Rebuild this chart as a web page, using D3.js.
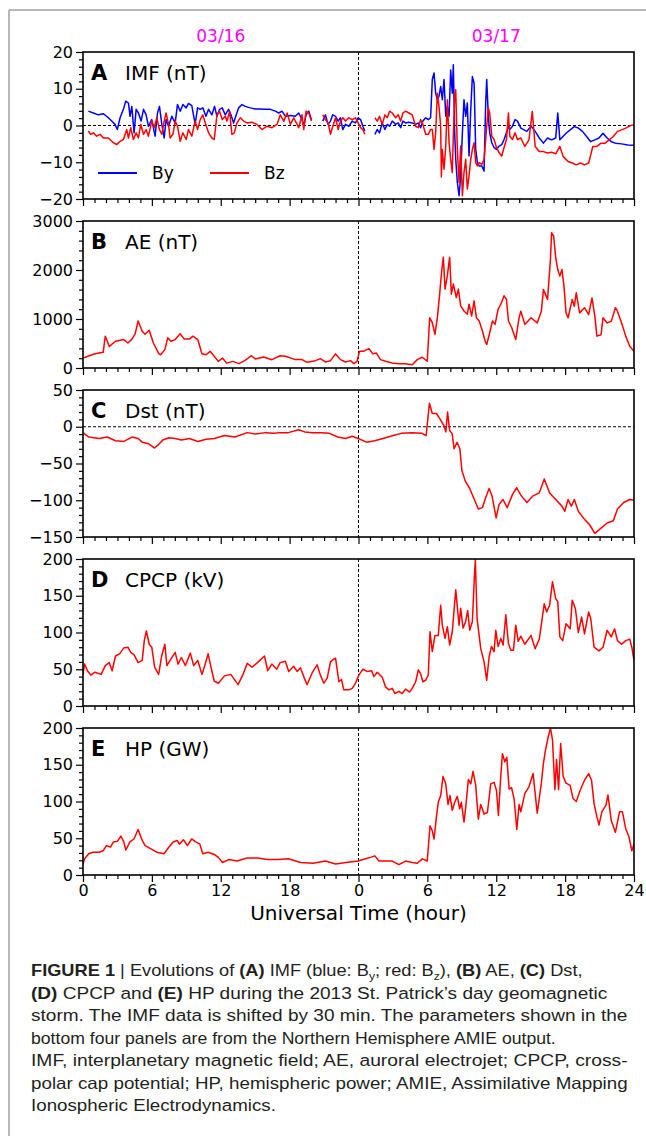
<!DOCTYPE html>
<html><head><meta charset="utf-8">
<script src="https://cdn.jsdelivr.net/npm/d3@7"></script>
<style>body{margin:0;background:#fff}svg{display:block}</style>
</head><body><svg id="c" width="646" height="1136"></svg>
<script>
// ---------------- data (hour since 03/16 00 UT, value) ----------------
const xTickValues = [0, 6, 12, 18, 24, 30, 36, 42, 48];
const xTickLabels = ["0", "6", "12", "18", "0", "6", "12", "18", "24"];
const dateHours = [12, 36];
const dateTexts = ["03/16", "03/17"];

const imfBy = [[0.47,3.9],[0.9,3.4],[1.34,2.9],[1.78,3.2],[2.21,2.1],[2.5,1.2],[2.79,0.3],[2.99,-1.1],[3.23,2.1],[3.52,4.4],[3.72,6.6],[3.96,6.1],[4.1,2.5],[4.25,5.2],[4.45,-2.0],[4.63,4.4],[4.83,3.4],[5.06,1.2],[5.27,4.4],[5.5,2.9],[5.7,-0.2],[5.99,1.6],[6.28,-2.9],[6.49,3.4],[6.66,5.2],[6.87,0.3],[7.07,-3.4],[7.24,1.6],[7.45,-0.2],[7.74,2.5],[8.03,0.7],[8.23,5.7],[8.47,3.9],[8.7,5.7],[8.99,4.8],[9.19,6.0],[9.48,5.4],[9.77,0.3],[9.98,4.8],[10.21,4.4],[10.44,4.8],[10.71,2.5],[10.94,4.4],[11.23,2.9],[11.46,5.2],[11.67,2.5],[11.9,4.4],[12.13,4.8],[12.39,2.9],[12.68,4.4],[12.89,2.9],[13.12,0.7],[13.35,2.9],[13.56,4.8],[13.85,5.7],[14.14,5.2],[14.57,4.8],[15.01,4.5],[15.45,4.5],[15.88,4.4],[16.32,4.4],[16.76,3.9],[17.05,3.4],[17.34,3.9],[17.63,2.5],[18.07,2.7],[18.5,2.5],[18.79,3.4],[19.08,1.6],[19.23,-0.2],[19.43,2.9],[19.67,3.9],[19.9,1.6],[20.2,null],[20.89,1.2],[21.12,2.9],[21.35,0.3],[21.56,1.2],[21.76,2.9],[22.0,2.5],[22.23,1.2],[22.43,2.1],[22.63,-1.1],[22.87,0.3],[23.16,-0.2],[23.45,1.2],[23.74,0.7],[23.97,2.1],[24.18,1.6],[24.38,-0.2],[24.55,-1.5],[25.0,null],[25.43,-2.4],[25.63,-1.1],[25.83,-2.0],[26.07,0.7],[26.3,-1.1],[26.5,0.3],[26.71,-0.2],[26.94,1.2],[27.23,0.3],[27.46,0.7],[27.67,-0.6],[27.87,1.2],[28.1,0.7],[28.39,0.9],[28.68,0.7],[28.98,0.3],[29.21,0.7],[29.41,-0.6],[29.61,1.2],[29.85,2.1],[30.08,1.6],[30.28,2.1],[30.43,12.5],[30.58,14.3],[30.72,8.8],[30.87,7.0],[31.01,7.9],[31.16,10.6],[31.3,7.0],[31.45,12.5],[31.6,2.5],[31.74,5.2],[31.89,2.5],[32.03,15.1],[32.17,8.8],[32.26,16.5],[32.38,-2.0],[32.47,-9.2],[32.61,-15.5],[32.76,-19.1],[32.9,-13.7],[33.05,-2.0],[33.19,7.0],[33.34,2.5],[33.48,6.1],[33.63,-8.3],[33.78,4.4],[33.92,13.3],[34.07,11.5],[34.21,-6.5],[34.36,-10.1],[34.51,-11.0],[34.74,-11.0],[34.94,-12.4],[35.08,6.1],[35.17,12.5],[35.31,2.5],[35.43,-2.0],[35.61,-4.7],[35.81,-6.0],[36.02,-6.5],[36.25,-5.6],[36.48,-5.2],[36.68,-3.8],[36.89,-2.0],[37.06,-0.2],[37.18,-1.1],[37.41,-0.2],[37.64,1.6],[37.85,1.2],[38.14,-0.7],[38.67,-1.6],[39.03,-0.1],[39.39,-1.6],[39.75,-3.4],[40.11,-4.8],[40.47,-3.4],[40.82,-3.9],[41.18,-3.4],[41.36,3.4],[41.54,-3.9],[42.08,-2.1],[42.44,-1.2],[42.8,-0.3],[43.15,-0.7],[43.51,-1.6],[43.87,-3.0],[44.23,-4.4],[44.59,-3.9],[44.95,-3.4],[45.3,-2.1],[45.66,-3.4],[46.02,-4.4],[46.38,-4.8],[46.92,-5.0],[47.46,-5.3],[48,-5.4]];

const imfBz = [[0.47,-1.5],[0.67,-2.4],[0.9,-2.0],[1.19,-2.9],[1.48,-2.4],[1.78,-3.4],[2.21,-3.4],[2.65,-4.7],[2.94,-5.2],[3.23,-4.3],[3.52,-3.8],[3.81,-1.1],[3.96,-3.4],[4.16,-0.6],[4.39,-3.8],[4.63,-2.0],[4.83,-3.4],[5.03,0.3],[5.27,-2.4],[5.5,-1.1],[5.7,-2.9],[5.99,1.2],[6.2,-0.6],[6.43,2.1],[6.66,-1.1],[6.87,-2.4],[7.07,1.2],[7.24,3.4],[7.45,0.3],[7.59,-3.4],[7.83,-2.4],[8.03,1.2],[8.23,-0.2],[8.47,-4.3],[8.7,-2.0],[8.99,-3.8],[9.19,-1.1],[9.48,-2.9],[9.77,1.2],[9.98,-1.1],[10.21,1.6],[10.44,2.9],[10.65,0.7],[10.94,-2.0],[11.23,-3.4],[11.43,-3.8],[11.67,2.9],[11.9,3.9],[12.13,1.6],[12.39,2.5],[12.54,1.2],[12.77,3.9],[12.97,-2.4],[13.18,-2.0],[13.41,0.7],[13.7,2.1],[13.99,1.2],[14.28,0.7],[14.72,0.9],[15.16,0.3],[15.59,-1.1],[16.03,-0.2],[16.47,-0.6],[16.9,0.3],[17.19,2.9],[17.49,1.2],[17.78,3.4],[18.07,0.3],[18.36,2.1],[18.79,-0.6],[19.08,2.9],[19.23,-1.1],[19.43,3.9],[19.67,3.4],[19.9,1.2],[20.2,null],[20.89,2.9],[21.12,1.6],[21.35,0.7],[21.56,-2.4],[21.76,-0.2],[22.0,2.1],[22.23,-1.1],[22.43,1.2],[22.63,2.1],[22.87,1.2],[23.16,2.1],[23.45,1.6],[23.74,2.1],[23.97,0.7],[24.18,-0.6],[24.38,-1.1],[24.55,-2.4],[25.0,null],[25.43,2.1],[25.63,1.2],[25.83,2.5],[26.07,0.3],[26.3,2.9],[26.5,2.1],[26.71,3.9],[26.94,3.4],[27.23,2.1],[27.46,2.9],[27.67,1.2],[27.87,3.4],[28.1,3.9],[28.39,3.4],[28.68,2.9],[28.98,-0.2],[29.21,-0.6],[29.41,1.6],[29.61,0.3],[29.85,-2.4],[30.08,-2.4],[30.28,-1.1],[30.43,-1.1],[30.58,-6.5],[30.72,-2.0],[30.87,8.8],[31.01,5.2],[31.16,-0.2],[31.22,-14.0],[31.3,-6.5],[31.45,-11.9],[31.6,-5.6],[31.74,7.0],[31.89,-4.7],[32.03,-9.2],[32.17,-12.8],[32.26,-2.9],[32.38,7.9],[32.47,9.7],[32.61,-6.5],[32.76,-15.5],[32.9,-5.6],[33.05,-19.1],[33.19,-12.8],[33.34,-9.2],[33.48,-17.3],[33.63,-13.7],[33.78,-9.2],[33.92,-6.5],[34.07,-4.7],[34.21,-10.1],[34.36,-11.0],[34.51,-10.1],[34.74,-10.6],[34.94,-9.2],[35.08,-3.8],[35.17,-0.2],[35.31,4.8],[35.43,3.4],[35.61,-2.9],[35.81,-3.8],[36.02,-6.0],[36.25,-7.4],[36.48,-8.3],[36.68,-6.0],[36.89,-3.8],[37.06,3.4],[37.18,-2.9],[37.41,-3.8],[37.64,-2.0],[37.85,-3.8],[38.14,-3.4],[38.49,-5.7],[38.85,-3.9],[39.14,3.8],[39.39,-5.7],[39.75,-7.1],[40.11,-7.1],[40.47,-7.5],[40.82,-7.3],[41.18,-7.7],[41.54,-5.7],[41.83,-8.4],[42.26,-9.8],[42.62,-10.2],[42.97,-10.7],[43.33,-10.2],[43.69,-10.7],[44.05,-10.2],[44.23,-8.0],[44.41,-5.7],[44.77,-5.7],[45.13,-4.8],[45.48,-4.8],[45.84,-3.9],[46.2,-3.0],[46.56,-1.6],[46.92,-1.2],[47.28,-0.7],[47.63,-0.1],[48,0.2]];

const ae = [[0,205],[1.04,290],[1.76,320],[1.94,650],[2.29,440],[2.83,545],[3.55,580],[3.91,510],[4.27,590],[4.55,700],[4.8,960],[5.16,750],[5.41,690],[5.77,770],[6.13,510],[6.59,300],[6.77,270],[7.13,375],[7.38,615],[7.67,545],[8.03,580],[8.46,700],[8.82,590],[9.28,590],[9.57,650],[10.0,580],[10.36,290],[10.72,270],[11.08,340],[11.43,240],[11.79,135],[12.15,205],[12.51,100],[13.05,135],[13.58,90],[14.12,155],[14.66,250],[15.02,185],[15.73,225],[16.45,170],[17.17,250],[17.63,240],[18.5,171],[19.08,171],[19.52,116],[20.25,150],[20.68,192],[21.12,123],[21.56,150],[22.0,288],[22.43,171],[22.87,123],[23.3,150],[23.6,89],[23.88,137],[24.09,343],[24.47,343],[24.9,397],[25.25,288],[25.54,308],[25.92,171],[26.36,137],[26.94,103],[27.52,89],[28.1,89],[28.68,68],[29.12,171],[29.56,219],[29.99,137],[30.2,1027],[30.43,925],[30.66,685],[30.87,1027],[31.07,1507],[31.25,1987],[31.39,2261],[31.54,1610],[31.74,1884],[31.94,2261],[32.09,1507],[32.26,1713],[32.52,1439],[32.7,1610],[32.9,1267],[33.19,1164],[33.48,1096],[33.63,1302],[33.86,1062],[34.07,1370],[34.27,1027],[34.51,959],[34.8,754],[35.03,548],[35.17,480],[35.43,720],[35.67,959],[35.9,890],[36.16,1199],[36.4,1302],[36.68,1473],[36.89,1404],[37.06,959],[37.35,822],[37.7,582],[37.99,1027],[38.14,1160],[38.49,890],[39.03,1025],[39.57,920],[39.93,1160],[40.11,1600],[40.47,1400],[40.72,2215],[40.82,2760],[41.0,2690],[41.18,2250],[41.36,2010],[41.54,1875],[41.72,2010],[41.9,1670],[42.08,1125],[42.26,1025],[42.62,1400],[42.8,1260],[42.97,1535],[43.26,1125],[43.69,1230],[44.05,1090],[44.34,1430],[44.59,1055],[44.77,650],[45.13,680],[45.3,1025],[45.66,920],[46.02,955],[46.38,1230],[46.56,1160],[46.92,920],[47.28,650],[47.63,445],[48,340]];

const dst = [[0,-8],[0.5,-14],[1.4,-16],[2.11,-14],[2.83,-19],[3.55,-20],[4.27,-14],[4.8,-16],[5.16,-21],[5.7,-23],[6.24,-29],[6.59,-24],[6.95,-18],[7.49,-15],[8.03,-16],[8.57,-18],[9.28,-16],[10.0,-20],[10.72,-17],[11.43,-16],[12.33,-12],[13.23,-14],[14.3,-8],[15.02,-10],[15.91,-8],[16.63,-9],[17.17,-8],[17.89,-8],[18.78,-4],[19.32,-7],[20.04,-8],[20.75,-8],[21.47,-9],[22.19,-14],[22.9,-16],[23.44,-13],[23.98,-16],[24.7,-21],[25.41,-19],[26.13,-16],[27.03,-12],[27.74,-9],[28.64,-8],[29.53,-9],[29.89,-12],[30.18,32],[30.43,18],[30.79,18],[31.08,11],[31.43,2],[31.61,-7],[31.76,20],[31.94,-5],[32.15,-9],[32.33,-30],[32.58,-21],[32.83,-30],[33.01,-60],[33.3,-74],[33.66,-83],[34.09,-99],[34.44,-112],[34.8,-110],[35.09,-96],[35.38,-84],[35.63,-94],[35.99,-124],[36.24,-106],[36.59,-99],[36.95,-110],[37.42,-92],[37.78,-83],[38.14,-93],[38.67,-103],[39.21,-94],[39.75,-90],[40.18,-71],[40.65,-90],[41.18,-99],[41.72,-108],[41.97,-115],[42.26,-99],[42.54,-108],[42.8,-99],[43.15,-115],[43.69,-126],[44.12,-133],[44.59,-145],[45.13,-138],[45.66,-131],[46.2,-128],[46.56,-112],[47.1,-103],[47.63,-99],[48,-100]];

const cpcp = [[0,43],[0.14,57],[0.39,48],[0.68,42],[1.04,46],[1.58,43],[1.94,55],[2.29,59],[2.54,48],[2.83,68],[3.19,71],[3.55,79],[3.91,80],[4.16,73],[4.44,70],[4.8,59],[5.16,62],[5.34,89],[5.52,102],[5.77,84],[5.99,80],[6.24,53],[6.59,43],[6.85,68],[7.13,84],[7.31,55],[7.67,64],[8.03,73],[8.28,57],[8.57,66],[8.92,55],[9.35,72],[9.64,55],[10.0,62],[10.36,43],[10.61,55],[10.9,71],[11.15,53],[11.43,34],[11.79,31],[12.33,41],[12.87,43],[13.51,29],[13.94,43],[14.3,58],[14.73,53],[15.2,59],[15.81,68],[16.09,48],[16.45,57],[16.88,50],[17.17,59],[17.63,61],[17.92,47],[18.36,54],[18.65,47],[18.94,52],[19.23,40],[19.52,29],[19.96,45],[20.39,56],[20.68,42],[20.98,31],[21.27,38],[21.56,60],[21.76,63],[22.0,65],[22.29,33],[22.52,36],[22.72,22],[23.16,22],[23.45,24],[23.74,31],[24.03,42],[24.38,50],[24.76,47],[25.14,48],[25.34,40],[25.63,46],[26.07,39],[26.36,26],[26.65,22],[26.94,24],[27.17,17],[27.52,20],[27.81,17],[28.1,23],[28.45,19],[28.68,24],[28.98,33],[29.21,49],[29.41,44],[29.61,33],[29.85,35],[30.08,42],[30.23,101],[30.43,74],[30.66,96],[30.95,96],[31.16,137],[31.3,110],[31.54,92],[31.74,108],[31.94,83],[32.17,101],[32.47,158],[32.76,110],[32.9,133],[33.11,106],[33.34,115],[33.51,130],[33.69,103],[33.92,115],[34.09,174],[34.18,199],[34.33,119],[34.65,78],[34.94,60],[35.17,35],[35.38,67],[35.58,81],[35.81,74],[35.96,103],[36.16,81],[36.4,92],[36.6,83],[36.83,124],[37.06,85],[37.27,76],[37.5,76],[37.7,110],[37.91,88],[38.14,95],[38.49,84],[39.03,96],[39.39,78],[39.75,91],[40.18,139],[40.39,128],[40.65,137],[40.9,169],[41.18,146],[41.36,142],[41.54,94],[41.79,89],[42.08,112],[42.44,105],[42.62,144],[42.9,132],[43.15,100],[43.44,121],[43.69,98],[44.05,128],[44.23,119],[44.52,80],[44.95,75],[45.3,80],[45.66,103],[46.02,94],[46.31,105],[46.56,89],[46.92,84],[47.28,89],[47.63,91],[47.81,80],[48,62]];

const hp = [[0,15],[0.14,22],[0.5,29],[0.86,31],[1.4,31],[1.76,33],[2.04,40],[2.4,38],[2.65,45],[3.01,46],[3.3,53],[3.55,45],[3.73,34],[4.09,45],[4.44,49],[4.8,62],[5.16,47],[5.41,40],[5.88,36],[6.42,31],[7.06,29],[7.49,38],[7.85,45],[8.21,47],[8.39,42],[8.75,48],[9.1,40],[9.46,49],[9.82,45],[10.18,42],[10.43,29],[10.9,31],[11.43,28],[11.79,24],[12.15,17],[12.69,21],[13.41,19],[14.3,23],[15.2,23],[16.09,21],[16.99,21],[17.89,22],[18.96,17],[20.04,16],[21.11,19],[22.01,15],[22.9,17],[23.98,19],[24.61,22],[25.05,24],[25.43,26],[25.78,19],[26.36,19],[26.94,19],[27.52,14],[28.1,19],[28.68,17],[29.12,16],[29.56,22],[29.99,19],[30.23,67],[30.43,60],[30.58,49],[30.78,78],[30.95,99],[31.16,108],[31.36,134],[31.6,124],[31.8,96],[31.97,108],[32.17,88],[32.38,99],[32.61,107],[32.81,90],[32.96,99],[33.19,72],[33.34,92],[33.57,130],[33.78,124],[33.98,141],[34.21,122],[34.44,76],[34.65,96],[34.94,83],[35.23,85],[35.52,124],[35.81,126],[36.02,115],[36.19,81],[36.4,136],[36.54,165],[36.74,154],[36.92,160],[37.12,117],[37.33,119],[37.56,103],[37.79,62],[37.99,96],[38.14,86],[38.49,111],[38.85,120],[39.21,138],[39.57,84],[39.93,125],[40.11,152],[40.29,170],[40.47,184],[40.72,200],[40.9,184],[41.11,116],[41.25,157],[41.43,116],[41.61,179],[41.83,134],[42.08,125],[42.44,122],[42.69,104],[42.97,100],[43.33,116],[43.69,129],[44.05,138],[44.3,129],[44.52,97],[44.77,79],[44.95,68],[45.2,86],[45.56,95],[45.73,109],[46.02,74],[46.38,58],[46.74,86],[46.99,86],[47.28,63],[47.56,52],[47.81,33],[48,42]];

const panelLetters = ["A", "B", "C", "D", "E"];
const panelTitles = ["IMF (nT)", "AE (nT)", "Dst (nT)", "CPCP (kV)", "HP (GW)"];
const panelDomains = [[-20, 20], [0, 3000], [-150, 50], [0, 200], [0, 200]];
const panelMajor = [[-20, -10, 0, 10, 20], [0, 1000, 2000, 3000], [-150, -100, -50, 0, 50], [0, 50, 100, 150, 200], [0, 50, 100, 150, 200]];
const panelMinorStep = [2, 200, 10, 10, 10];
const legendLabels = ["By", "Bz"];

const captionLines = [
  [["FIGURE 1","b"],[" | ","n"],["Evolutions of ","n"],["(A)","b"],[" IMF (blue: B","n"],["y","sub"],["; red: B","n"],["z","sub"],["), ","n"],["(B)","b"],[" AE, ","n"],["(C)","b"],[" Dst,","n"]],
  [["(D)","b"],[" CPCP and ","n"],["(E)","b"],[" HP during the 2013 St. Patrick\u2019s day geomagnetic","n"]],
  [["storm. The IMF data is shifted by 30 min. The parameters shown in the","n"]],
  [["bottom four panels are from the Northern Hemisphere AMIE output.","n"]],
  [["IMF, interplanetary magnetic field; AE, auroral electrojet; CPCP, cross-","n"]],
  [["polar cap potential; HP, hemispheric power; AMIE, Assimilative Mapping","n"]],
  [["Ionospheric Electrodynamics.","n"]]
];
const captionWidths = [552, 577, 597, 525, 597, 597, 245];

// ---------------- layout ----------------
const svg = d3.select("#c");
const FONT = "'DejaVu Sans', sans-serif";
const L = 83, R = 634, TOP0 = 52, PITCH = 169, PH = 147;
const x = d3.scaleLinear().domain([0, 48]).range([L, R]);
const RED = "#ff0000", BLUE = "#0000ff";

// outer gray frame
svg.append("line").attr("x1", 9).attr("x2", 9).attr("y1", 10).attr("y2", 1136).attr("stroke", "#a0a0a0").attr("stroke-width", 1.5);
svg.append("line").attr("x1", 9).attr("x2", 646).attr("y1", 10).attr("y2", 10).attr("stroke", "#a0a0a0").attr("stroke-width", 1.5);

// date labels
svg.selectAll("text.date").data(dateHours).enter().append("text")
  .attr("x", d => x(d)).attr("y", 42).attr("text-anchor", "middle")
  .attr("font-family", FONT).attr("font-size", 17).attr("fill", "#ff00ff")
  .text((d, i) => dateTexts[i]);

const seriesByPanel = [[[imfBy, BLUE], [imfBz, RED]], [[ae, RED]], [[dst, RED]], [[cpcp, RED]], [[hp, RED]]];
const fmt = v => (v < 0 ? "\u2212" + Math.abs(v) : String(v));

panelLetters.forEach((letter, i) => {
  const top = TOP0 + i * PITCH, bot = top + PH;
  const dom = panelDomains[i];
  const y = d3.scaleLinear().domain(dom).range([bot, top]);
  const g = svg.append("g");
  const clipId = "clip" + i;
  g.append("clipPath").attr("id", clipId).append("rect").attr("x", L).attr("y", top).attr("width", R - L).attr("height", PH);

  // dashed reference lines
  g.append("line").attr("x1", x(24)).attr("x2", x(24)).attr("y1", top).attr("y2", bot)
    .attr("stroke", "#000").attr("stroke-width", 1).attr("stroke-dasharray", "3,2");
  if (dom[0] < 0 && dom[1] > 0) {
    g.append("line").attr("x1", L).attr("x2", R).attr("y1", y(0)).attr("y2", y(0))
      .attr("stroke", "#000").attr("stroke-width", 1).attr("stroke-dasharray", "3,2");
  }

  const line = d3.line().defined(d => d[1] !== null).x(d => x(d[0])).y(d => y(d[1]));
  seriesByPanel[i].forEach(([data, color]) => {
    g.append("path").datum(data).attr("d", line).attr("fill", "none")
      .attr("stroke", color).attr("stroke-width", 1.5).attr("stroke-linejoin", "round")
      .attr("clip-path", `url(#${clipId})`);
  });

  // frame
  g.append("rect").attr("x", L).attr("y", top).attr("width", R - L).attr("height", PH)
    .attr("fill", "none").attr("stroke", "#000").attr("stroke-width", 1.6);

  // y axis
  const minor = d3.range(dom[0], dom[1] + 0.001, panelMinorStep[i]).filter(v => !panelMajor[i].includes(v));
  const yMinor = g.append("g").attr("transform", `translate(${L},0)`)
    .call(d3.axisLeft(y).tickValues(minor).tickSize(4).tickFormat(""));
  const yMajor = g.append("g").attr("transform", `translate(${L},0)`)
    .call(d3.axisLeft(y).tickValues(panelMajor[i]).tickSize(7).tickPadding(3).tickFormat(fmt));
  // x axis
  const xMinor = g.append("g").attr("transform", `translate(0,${bot})`)
    .call(d3.axisBottom(x).tickValues(d3.range(0, 49).filter(v => v % 6)).tickSize(4).tickFormat(""));
  const xMajor = g.append("g").attr("transform", `translate(0,${bot})`)
    .call(d3.axisBottom(x).tickValues(xTickValues).tickSize(7).tickPadding(3)
      .tickFormat((d, k) => (i === 4 ? xTickLabels[k] : "")));
  [yMinor, yMajor, xMinor, xMajor].forEach(a => {
    a.select(".domain").remove();
    a.selectAll("line").attr("stroke", "#000").attr("stroke-width", 1.2);
    a.selectAll("text").attr("font-family", FONT).attr("font-size", 16).attr("fill", "#000");
  });

  // panel label
  g.append("text").attr("x", 91).attr("y", top + 28).attr("font-family", FONT)
    .attr("font-size", 21).attr("font-weight", "bold").text(letter);
  g.append("text").attr("x", 125).attr("y", top + 28).attr("font-family", FONT)
    .attr("font-size", 20).text(panelTitles[i]);

  if (i === 0) {
    const ly = top + 121;
    [[98, BLUE], [210, RED]].forEach(([lx, c], k) => {
      g.append("line").attr("x1", lx).attr("x2", lx + 39).attr("y1", ly).attr("y2", ly)
        .attr("stroke", c).attr("stroke-width", 1.8);
      g.append("text").attr("x", lx + 54).attr("y", ly + 6).attr("font-family", FONT)
        .attr("font-size", 17).text(legendLabels[k]);
    });
  }
});

// x axis title
svg.append("text").attr("x", (L + R) / 2).attr("y", 920).attr("text-anchor", "middle")
  .attr("font-family", FONT).attr("font-size", 20).text("Universal Time (hour)");

// caption
const CAP_FONT = "'Liberation Sans Narrow', 'Liberation Sans', Arial, sans-serif";
captionLines.forEach((parts, k) => {
  const t = svg.append("text").attr("y", 0).attr("x", 0)
    .attr("font-family", CAP_FONT).attr("font-size", 16.5).attr("fill", "#231f20");
  parts.forEach(([s, style], j) => {
    const ts = t.append("tspan").text(s);
    if (style === "b") ts.attr("font-weight", "bold");
    if (style === "sub") ts.attr("font-size", 11).attr("dy", 3.5);
    else if (j > 0 && parts[j - 1][1] === "sub") ts.attr("dy", -3.5);
  });
  const w = t.node().getBBox().width;
  const sx = captionWidths[k] / w;
  t.attr("transform", `translate(31,${976 + k * 22.5}) scale(${sx},1)`);
});
</script>
</body></html>
